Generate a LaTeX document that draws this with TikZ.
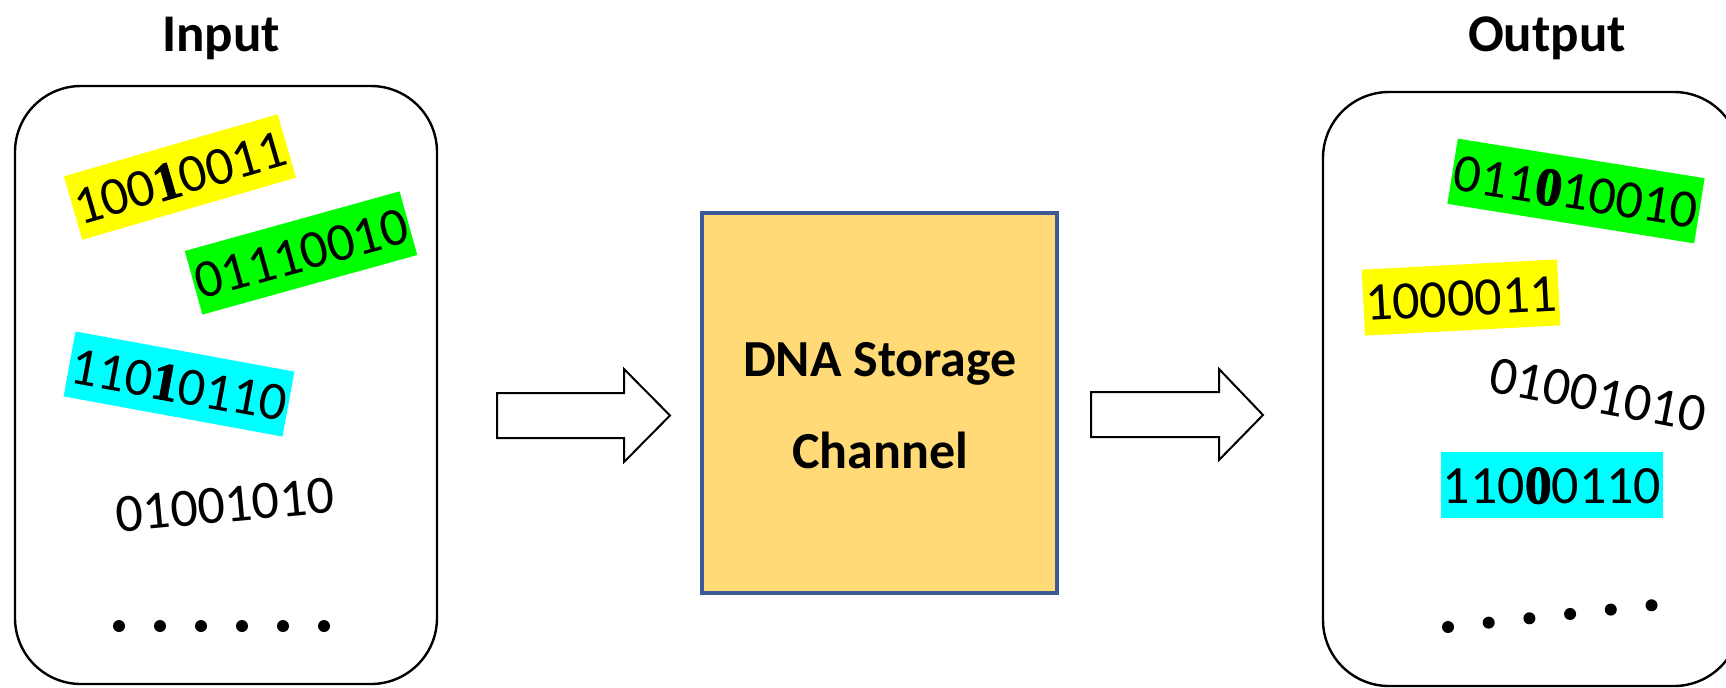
\documentclass[tikz,border=0pt]{standalone}
\usepackage{fontspec}
\setmainfont{Carlito}
\newfontfamily\serifbold[BoldFeatures={FakeBold=1.6}]{Liberation Serif}
\definecolor{chanfill}{HTML}{FFDA77}
\definecolor{chanedge}{HTML}{3C5A96}
\definecolor{hlyellow}{HTML}{FFFF00}
\definecolor{hlgreen}{HTML}{00FF00}
\definecolor{hlcyan}{HTML}{00FFFF}
% a flipped bit, set in a heavy serif face
\newcommand{\flipbit}[1]{{\serifbold\bfseries #1}}

\begin{document}
\begin{tikzpicture}[x=0.5pt,y=-0.5pt,
  bits/.style={font=\fontsize{27pt}{33pt}\selectfont, inner xsep=1pt, inner ysep=0pt,
    text height=25.7pt, text depth=7.3pt},
  title/.style={font=\fontsize{26.5pt}{32pt}\selectfont\bfseries, anchor=base},
  chanlabel/.style={font=\fontsize{26pt}{32pt}\selectfont\bfseries, anchor=base},
  pool/.style={draw=black, line width=1.2pt, rounded corners=33pt},
  blockarrow/.style={draw=black, line width=1pt, fill=white, line join=miter},
  dotmark/.style={circle, fill=black, inner sep=0pt, minimum size=6pt}]
\useasboundingbox (0,0) rectangle (1726,687);
\clip (0,0) rectangle (1726,687);

% titles
\node[title] (intitle) at (221,51) {Input};
\node[title] (outtitle) at (1547,51) {Output};

% input and output pools
\node[pool, minimum width=211pt, minimum height=299pt] (inpool) at (226,385) {};
\node[pool, minimum width=208.5pt, minimum height=297pt] (outpool) at (1531.5,389) {};

% channel
\node[draw=chanedge, fill=chanfill, line width=2.2pt, minimum width=177.5pt,
  minimum height=190pt] (chan) at (879.5,403) {};
\node[chanlabel] (chanA) at (880,376) {DNA Storage};
\node[chanlabel] (chanB) at (880,468) {Channel};

% block arrows
\draw[blockarrow] (497,393) -- (624,393) -- (624,369) -- (670,415.5) -- (624,462)
  -- (624,438) -- (497,438) -- cycle;
\draw[blockarrow] (1091,392) -- (1219,392) -- (1219,369) -- (1263,415) -- (1219,460)
  -- (1219,437) -- (1091,437) -- cycle;

% input strands
\node[bits, fill=hlyellow, rotate=16.2] (in1) at (180,177) {100\flipbit{1}0011};
\node[bits, fill=hlgreen, rotate=15.5] (in2) at (301,253) {01110010};
\node[bits, fill=hlcyan, rotate=-10.4] (in3) at (179,384) {110\flipbit{1}0110};
\node[bits, rotate=5.3] (in4) at (225,504) {01001010};
\foreach \i in {0,...,5}
  \node[dotmark] (indot\i) at (119+41*\i,626) {};

% output strands
\node[bits, fill=hlgreen, rotate=-9.1] (out1) at (1576,191) {011\flipbit{0}10010};
\node[bits, fill=hlyellow, rotate=3] (out2) at (1461,297.5) {1000011};
\node[bits, rotate=-10.8] (out3) at (1598,394) {01001010};
\node[bits, fill=hlcyan] (out4) at (1552,485) {110\flipbit{0}0110};
\foreach \i in {0,...,5}
  \node[dotmark] (outdot\i) at (1448+40.7*\i,627-4.35*\i) {};
\end{tikzpicture}
\end{document}
